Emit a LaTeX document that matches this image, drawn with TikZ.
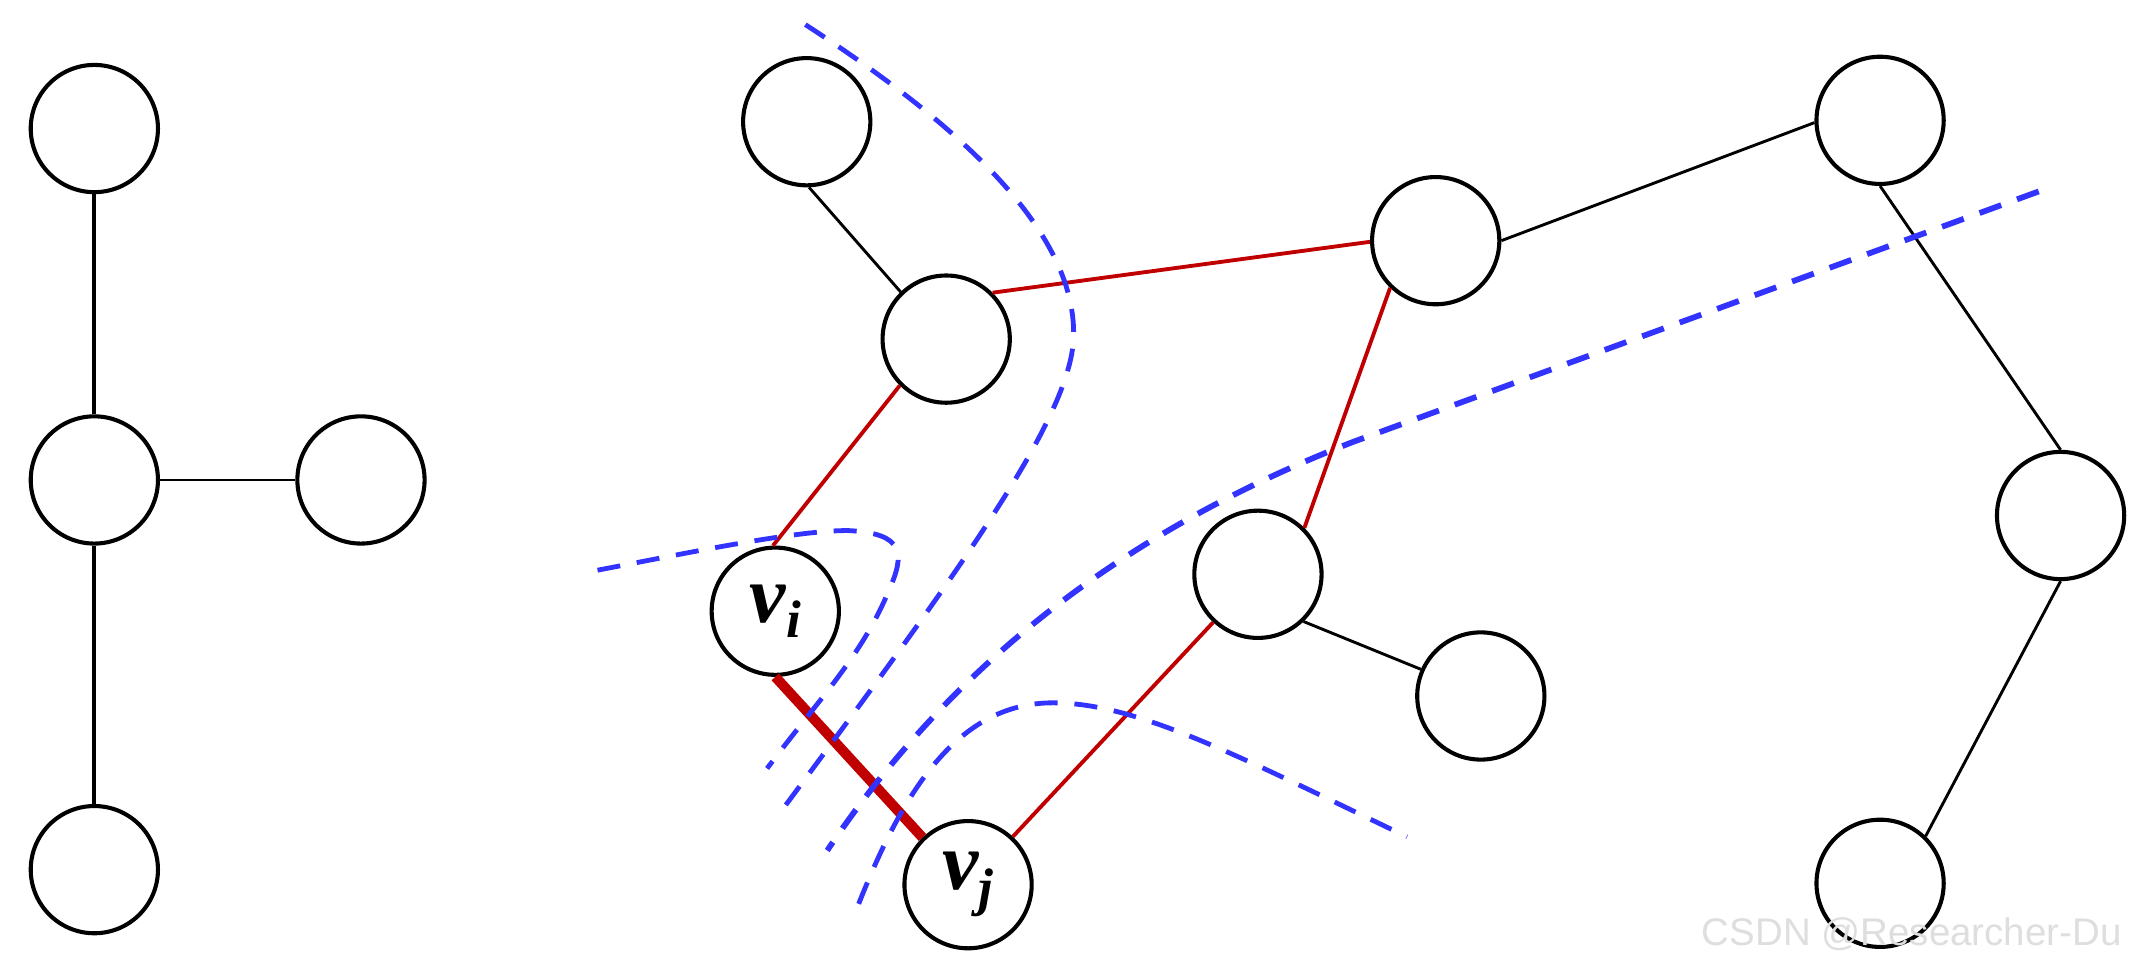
\documentclass[tikz,border=0pt]{standalone}
\usepackage{fontspec}
\setmainfont{Liberation Serif}
\newfontfamily\markfont{Liberation Sans}
\usepackage{tikz}
\usetikzlibrary{positioning}
\definecolor{cutred}{RGB}{192,0,0}
\definecolor{cutblue}{RGB}{51,51,255}
\tikzset{%
	vertex/.style   = {draw, circle, line width=0.85pt, fill=white, minimum size=0.93cm, inner sep=0pt}, % Vertex
	link/.style     = {line width=0.6pt}, % Plain edge
	redlink/.style  = {cutred, line width=0.8pt}, % Edge in cut
	hotlink/.style  = {cutred, line width=2.1pt}, % Edge (v_i,v_j)
	cutline/.style  = {cutblue, line width=1pt, dash pattern=on 4.8pt off 3.5pt}, % Cut
	vlabel/.style   = {font=\fontsize{17}{17}\selectfont\bfseries\itshape},
}

\begin{document}
\begin{tikzpicture}[x=0.01cm, y=-0.01cm]
	\useasboundingbox (0,0) rectangle (1568,708);
	% left tree
	\node[vertex] (a1) at (69,94) {};
	\node[vertex] (a2) at (69,351) {};
	\node[vertex] (a3) at (264,351) {};
	\node[vertex] (a4) at (69,636) {};
	\draw[link, line width=0.8pt] (a1) -- (a2);
	\draw[link] (a2) -- (a3);
	\draw[link, line width=0.8pt] (a2) -- (a4);
	
	% right graph
	\node[vertex] (b1) at (590,89) {};
	\node[vertex] (b2) at (692,248) {};
	\node[vertex] (b3) at (1050,176) {};
	\node[vertex] (b4) at (1375,88) {};
	\node[vertex, vlabel] (vi) at (567,447) {v\raisebox{-3.3pt}{\fontsize{11}{11}\selectfont i}};
	\node[vertex] (b5) at (920,420) {};
	\node[vertex] (b6) at (1083,509) {};
	\node[vertex] (b7) at (1507,377) {};
	\node[vertex, vlabel] (vj) at (708,647) {v\raisebox{-3.3pt}{\fontsize{11}{11}\selectfont j}};
	\node[vertex] (b8) at (1375,646) {};
	\draw[link] (b1.272) -- (b2.134);
	\draw[redlink] (b2.45) -- (b3.181);
	\draw[link] (b3.0) -- (b4.182);
	\draw[redlink] (b2.225) -- (vi.92);
	\draw[redlink] (b3.226) -- (b5.45);
	\draw[link] (b5.-46) -- (b6.156);
	\draw[redlink] (b5.227) -- (vj.47);
	\draw[hotlink] (vi.270) -- (vj.134);
	\draw[link] (b4.270) -- (b7.90);
	\draw[link] (b7.270) -- (b8.46);
	
	% cuts
	\draw[cutline] (589,18) .. controls (700,90) and (790,170) .. (785,250)
		.. controls (780,310) and (700,420) .. (573,591);
	\draw[cutline] (437,417) .. controls (500,405) and (580,388) .. (620,388)
		.. controls (662,390) and (662,405) .. (650,432)
		.. controls (630,480) and (600,510) .. (561,562);
	\draw[cutline, line width=1.2pt] (1491,140) -- (990,323)
		.. controls (830,385) and (700,480) .. (605,622);
	\draw[cutline] (628,661) .. controls (660,580) and (700,514) .. (770,514)
		.. controls (830,514) and (900,550) .. (1029,612);
	
	\node[text=black!13, font=\markfont\fontsize{8}{8}\selectfont, anchor=east] (mark) at (1564,683) {CSDN @Researcher-Du};
\end{tikzpicture}
\end{document}
